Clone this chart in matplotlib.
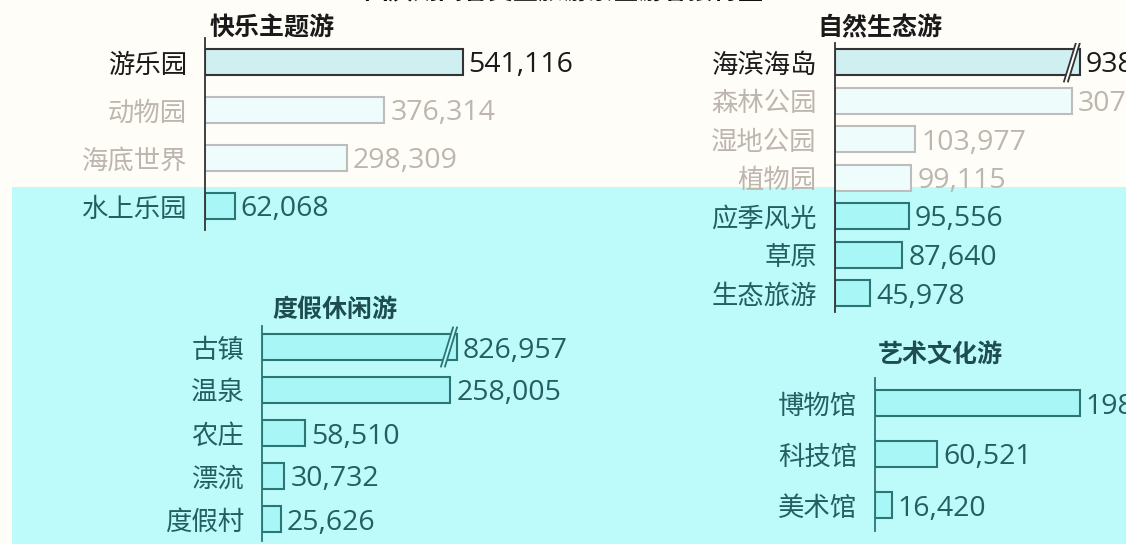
import matplotlib.pyplot as plt
from matplotlib.patches import Rectangle, Polygon

plt.rcParams['font.family'] = ['Noto Sans CJK SC', 'DejaVu Sans']

# visitor counts per attraction type
theme_cats = ['游乐园', '动物园', '海底世界', '水上乐园']
theme_vals = [541116, 376314, 298309, 62068]

nature_cats = ['海滨海岛', '森林公园', '湿地公园', '植物园', '应季风光', '草原', '生态旅游']
nature_vals = [938025, 307482, 103977, 99115, 95556, 87640, 45978]

leisure_cats = ['古镇', '温泉', '农庄', '漂流', '度假村']
leisure_vals = [826957, 258005, 58510, 30732, 25626]

culture_cats = ['博物馆', '科技馆', '美术馆']
culture_vals = [198763, 60521, 16420]

W, H = 1126, 544
BAND = 187          # where the cyan area starts (px from top)
PAPER = '#fffdf8'
CYAN = '#bdfbfb'

fig = plt.figure(figsize=(W / 100, H / 100), dpi=100)
fig.patch.set_facecolor(PAPER)
fig.add_artist(Rectangle((12 / W, 0), 1, (H - BAND) / H, transform=fig.transFigure,
                         facecolor=CYAN, edgecolor='none', zorder=0))

fig.text(0.5, 1 + 8 / H, '国庆期间各类型旅游景区游客接待量', ha='center', va='center',
         fontsize=18, fontweight='bold', color='#111111')


def row_style(ypx, i):
    if ypx >= BAND:
        return '#245e62', '#a9f6f6', '#2c7575'
    if i == 0:
        return '#1a1a1a', '#cfeff1', '#333333'
    return '#bdb6ae', '#eefcfc', '#bdbdbd'


def panel(cats, vals, title, x0, y0, step, per_px, title_x, title_y, brk_px=None):
    n = len(cats)
    top = y0 - step / 2
    bottom = y0 + (n - 0.5) * step
    ax = fig.add_axes([x0 / W, 1 - bottom / H, (W - x0) / W, (bottom - top) / H])
    ax.set_facecolor('none')
    ax.set_xlim(0, (W - x0) * per_px)
    ax.set_ylim(n - 0.5, -0.5)
    for s in ['top', 'right', 'bottom']:
        ax.spines[s].set_visible(False)
    ax.set_xticks([])

    h = 26 / step
    ax.set_yticks(range(n), cats)
    ax.tick_params(axis='y', length=0, pad=13, labelsize=19)
    line_col = None
    for i, (c, v) in enumerate(zip(cats, vals)):
        ypx = y0 + i * step
        tc, fc, ec = row_style(ypx, i)
        ax.get_yticklabels()[i].set_color(tc)
        shown = v
        if brk_px is not None and v > brk_px * per_px:
            shown = brk_px * per_px
        ax.barh(i, shown, height=h, color=fc, edgecolor=ec, linewidth=1.5)
        if shown < v:
            # break marks near the end of the truncated bar
            gx = shown - 12 * per_px
            dx = 4 * per_px
            bg = PAPER if ypx < BAND else CYAN
            ax.add_patch(Polygon([(gx - dx, i + h * 0.75), (gx + 2 * dx, i - h * 0.75),
                                  (gx + 3 * dx, i - h * 0.75), (gx, i + h * 0.75)],
                                 closed=True, facecolor=bg, edgecolor='none', zorder=3))
            for off in (0, dx):
                ax.plot([gx - dx + off, gx + 2 * dx + off], [i + h * 0.75, i - h * 0.75],
                        color=ec, lw=1.3, zorder=4)
        ax.text(shown + 6 * per_px, i, f'{v:,}', va='center_baseline', ha='left',
                fontsize=20.5, color=tc, family='Open Sans')
        if line_col is None:
            line_col = ec
    ax.spines['left'].set_color(line_col)
    ax.spines['left'].set_linewidth(1.3)

    tcol = '#1a1a1a' if title_y < BAND else '#1e4d4f'
    fig.text(title_x / W, 1 - title_y / H, title, ha='center', va='center',
             fontsize=18, fontweight='bold', color=tcol)


panel(theme_cats, theme_vals, '快乐主题游', 205, 62, 48, 2100, 272, 28)
panel(nature_cats, nature_vals, '自然生态游', 835, 62, 38.5, 1300, 880, 28, brk_px=245)
panel(leisure_cats, leisure_vals, '度假休闲游', 262, 347, 43, 1370, 335, 310, brk_px=195)
panel(culture_cats, culture_vals, '艺术文化游', 875, 403, 51, 970, 940, 355)

fig.savefig('out.png', dpi=100, facecolor=fig.get_facecolor())
